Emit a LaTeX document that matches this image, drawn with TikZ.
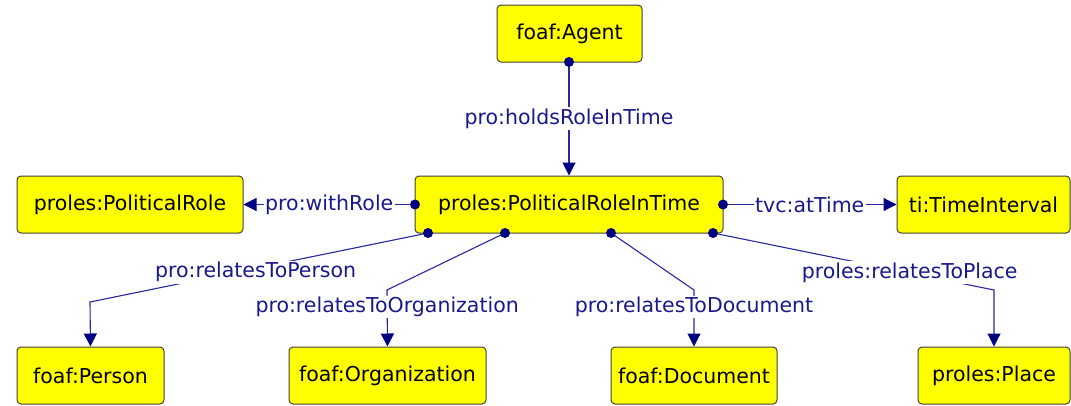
\documentclass[tikz,border=0pt]{standalone}
\usepackage{fontspec}
\setmainfont{DejaVu Sans}
\usetikzlibrary{arrows.meta}
\definecolor{boxyellow}{RGB}{255,255,0}
\definecolor{edgeblue}{RGB}{40,40,160}
\definecolor{tipnavy}{RGB}{0,0,128}
\definecolor{labnavy}{RGB}{25,25,140}
\tikzset{
  cls/.style={draw=black!75, line width=1pt, fill=boxyellow, rounded corners=4pt,
    minimum height=57pt, inner sep=0pt, font=\fontsize{20.5}{24}\selectfont, text=black},
  rel/.style={draw=edgeblue, line width=1.1pt, -{Triangle[length=13pt,width=13pt,color=tipnavy]}},
  lab/.style={fill=white, inner sep=1.5pt, text=labnavy, font=\fontsize{20.5}{24}\selectfont},
  dotc/.style={circle, fill=tipnavy, inner sep=0pt, minimum size=10pt}
}
\begin{document}
\begin{tikzpicture}[x=1pt,y=-1pt]
\useasboundingbox (0,0) rectangle (1071,405);
% classes
\node[cls, minimum width=145pt] (agent) at (569.5,33.5) {foaf:Agent};
\node[cls, minimum width=308pt] (prit) at (569,204.5) {proles:PoliticalRoleInTime};
\node[cls, minimum width=226pt] (role) at (130,204.5) {proles:PoliticalRole};
\node[cls, minimum width=173pt] (ti) at (983.5,204.5) {ti:TimeInterval};
\node[cls, minimum width=147pt] (person) at (90.5,375.5) {foaf:Person};
\node[cls, minimum width=197pt] (org) at (387.5,375.5) {foaf:Organization};
\node[cls, minimum width=166pt] (doc) at (694,375.5) {foaf:Document};
\node[cls, minimum width=152pt] (place) at (994,375.5) {proles:Place};
% anchor dots
\coordinate (dA) at (569,62);
\coordinate (dL) at (415,204.5);
\coordinate (dR) at (723,204.5);
\coordinate (d1) at (428,233);
\coordinate (d2) at (505,233);
\coordinate (d3) at (611,233);
\coordinate (d4) at (713,233);
\coordinate (b1) at (90,302);
\coordinate (b2) at (387,290);
\coordinate (b3) at (694,290);
\coordinate (b4) at (994,290);
% edges
\draw[rel] (dA) -- node[lab, pos=0.5] {pro:holdsRoleInTime} (prit.north);
\draw[rel] (dL) -- node[lab, pos=0.5] {pro:withRole} (role.east);
\draw[rel] (dR) -- node[lab, pos=0.5] {tvc:atTime} (ti.west);
\draw[rel] (d1) -- node[lab, pos=0.51, yshift=-4pt] {pro:relatesToPerson} (b1) -- (person.north);
\draw[rel] (d2) -- (b2) -- node[lab, pos=0.3] {pro:relatesToOrganization} (org.north);
\draw[rel] (d3) -- (b3) -- node[lab, pos=0.3] {pro:relatesToDocument} (doc.north);
\draw[rel] (d4) -- node[lab, pos=0.70] {proles:relatesToPlace} (b4) -- (place.north);
% dots
\foreach \d in {dA,dL,dR,d1,d2,d3,d4} \node[dotc] at (\d) {};
\end{tikzpicture}
\end{document}
